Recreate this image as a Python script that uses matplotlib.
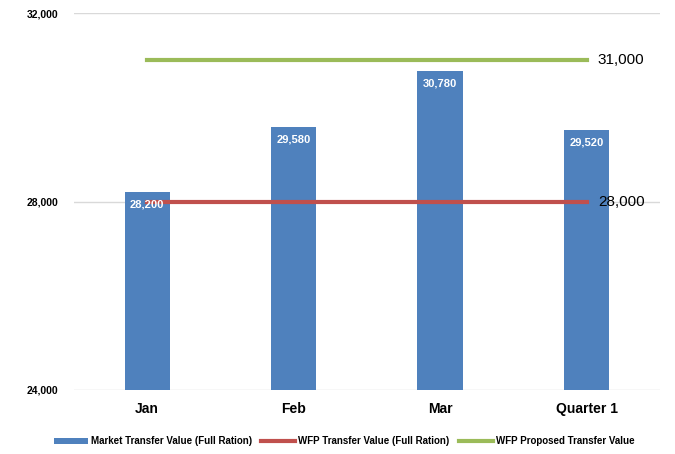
import matplotlib
matplotlib.use("Agg")
import matplotlib.pyplot as plt
import numpy as np

categories = ["Jan", "Feb", "Mar", "Quarter 1"]
market_values = [28200, 29580, 30780, 29520]
wfp_value = 28000
proposed_value = 31000
y_ticks = [24000, 28000, 32000]

plt.rcParams['font.family'] = ['Liberation Sans', 'DejaVu Sans']

fig = plt.figure(figsize=(6.75, 4.54), dpi=100)
ax = fig.add_axes([0.1096, 0.141, 0.868, 0.830])

x = np.arange(len(categories))
bars = ax.bar(x, market_values, width=0.31, color="#4F81BD", zorder=2,
              label="Market Transfer Value (Full Ration)")
ax.plot([x[0], x[-1]], [wfp_value, wfp_value], color="#C0504D", lw=3, zorder=3,
        label="WFP Transfer Value (Full Ration)")
ax.plot([x[0], x[-1]], [proposed_value, proposed_value], color="#9BBB59", lw=3, zorder=3,
        label="WFP Proposed Transfer Value")

for xi, v in zip(x, market_values):
    ax.annotate(f"{v:,}", (xi, v), xytext=(0, -9), textcoords="offset points",
                ha="center", va="center", color="white", fontsize=8, fontweight="bold", zorder=4)

ax.annotate(f"{proposed_value:,}", (x[-1], proposed_value), xytext=(8, 0), textcoords="offset points",
            ha="left", va="center", fontsize=11, color="black")
ax.annotate(f"{wfp_value:,}", (x[-1], wfp_value), xytext=(8, 0), textcoords="offset points",
            ha="left", va="center", fontsize=11, color="black")

ax.set_xlim(-0.5, len(categories) - 0.5)
ax.set_ylim(24000, 32000)
ax.set_yticks(y_ticks)
ax.set_yticklabels([f"{t:,}" for t in y_ticks], fontsize=7.5, fontweight="bold")
ax.set_xticks(x)
ax.set_xticklabels(categories, fontsize=10, fontweight="bold")
ax.tick_params(axis="both", length=0)
ax.tick_params(axis="y", pad=11)
ax.tick_params(axis="x", pad=9)
ax.grid(axis="y", color="#D9D9D9", lw=1, zorder=0)
for s in ax.spines.values():
    s.set_visible(False)

handles, labels = ax.get_legend_handles_labels()
order = [2, 0, 1]
leg = fig.legend([handles[i] for i in order], [labels[i] for i in order],
                 loc="center", bbox_to_anchor=(0.51, 0.028), ncol=3, frameon=False,
                 prop={"size": 7, "weight": "bold"}, handlelength=3.5, handleheight=0.5,
                 columnspacing=1.0, handletextpad=0.3)

fig.savefig("out.png", dpi=100)
